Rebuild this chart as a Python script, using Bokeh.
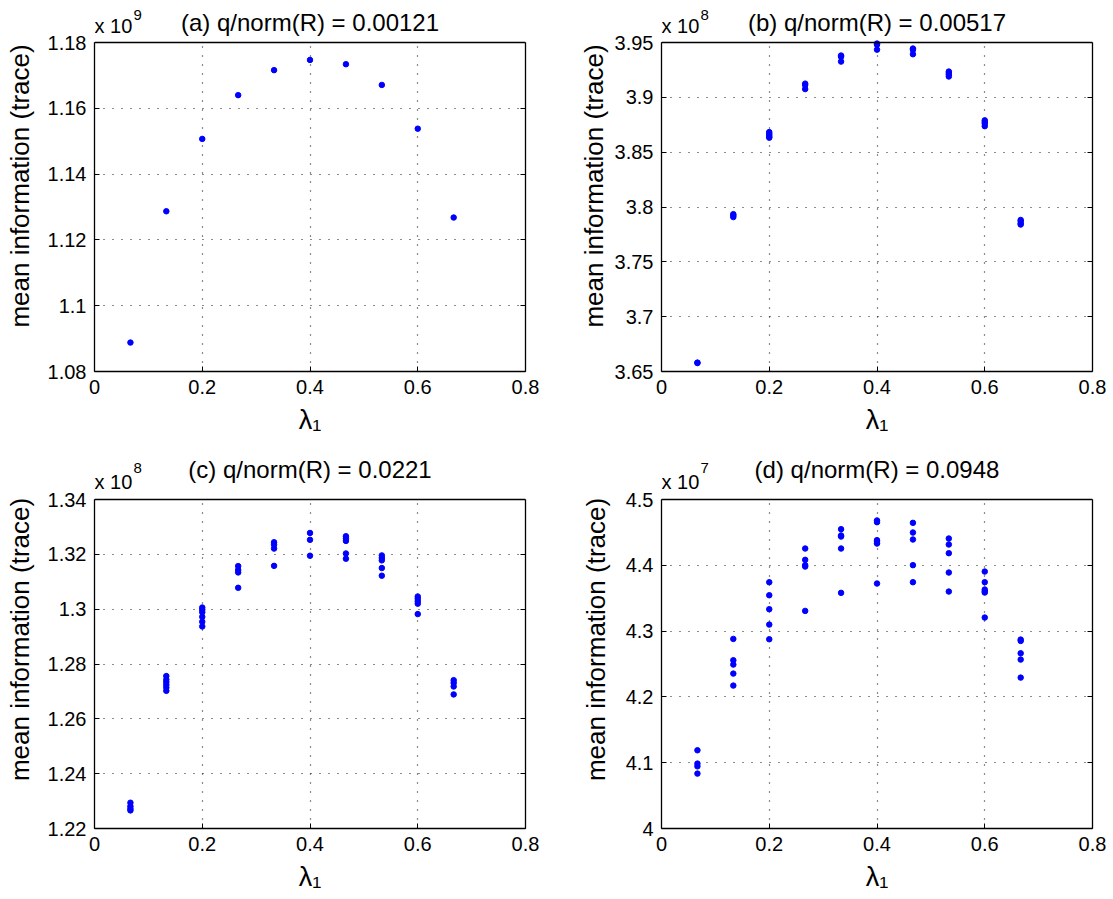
from bokeh.plotting import figure
from bokeh.layouts import column, row
from bokeh.models import (Range1d, FixedTicker, LinearAxis, Label, CustomJSTickFormatter,
                          ColumnDataSource, Span, BoxAnnotation)
from bokeh.embed import file_html
from bokeh.resources import INLINE

# ---------------- data ----------------
lam = [0.0667, 0.1333, 0.2, 0.2667, 0.3333, 0.4, 0.4667, 0.5333, 0.6, 0.6667]

# (a) values in units of 1e9
a_vals = [[1.0888], [1.1287], [1.1507], [1.1640], [1.1716], [1.1747],
          [1.1734], [1.1671], [1.1538], [1.1268]]
# (b) values in units of 1e8
b_vals = [[3.6581, 3.6577],
          [3.7935, 3.7922, 3.7908],
          [3.8683, 3.8668, 3.8655, 3.8640, 3.8632],
          [3.9125, 3.9112, 3.9075],
          [3.9381, 3.9370, 3.9326],
          [3.9490, 3.9480, 3.9435],
          [3.9445, 3.9433, 3.9393],
          [3.9235, 3.9222, 3.9208, 3.9190],
          [3.8790, 3.8775, 3.8760, 3.8737],
          [3.7882, 3.7870, 3.7850, 3.7840]]
# (c) values in units of 1e8
c_vals = [[1.2294, 1.2281, 1.2272, 1.2266],
          [1.2756, 1.2743, 1.2734, 1.2724, 1.2714, 1.2702],
          [1.3006, 1.2998, 1.2989, 1.2972, 1.2954, 1.2937],
          [1.3157, 1.3143, 1.3134, 1.3078],
          [1.3244, 1.3235, 1.3221, 1.3158],
          [1.3278, 1.3253, 1.3195],
          [1.3266, 1.3258, 1.3249, 1.3203, 1.3184],
          [1.3196, 1.3187, 1.3178, 1.3150, 1.3122],
          [1.3046, 1.3038, 1.3029, 1.3020, 1.2982],
          [1.2741, 1.2731, 1.2718, 1.2689]]
# (d) values in units of 1e7
d_vals = [[4.1189, 4.0986, 4.0945, 4.0834],
          [4.2881, 4.2557, 4.2491, 4.2354, 4.2172],
          [4.3743, 4.3545, 4.3333, 4.3099, 4.2876],
          [4.4255, 4.4083, 4.4002, 4.3981, 4.3307],
          [4.4549, 4.4453, 4.4437, 4.4255, 4.3581],
          [4.4681, 4.4655, 4.4382, 4.4356, 4.4331, 4.3723],
          [4.4645, 4.4498, 4.4392, 4.4002, 4.3743],
          [4.4407, 4.4316, 4.4184, 4.3890, 4.3601],
          [4.3905, 4.3743, 4.3632, 4.3606, 4.3586, 4.3206],
          [4.2871, 4.2851, 4.2663, 4.2567, 4.2293]]

titles = ["(a) q/norm(R) = 0.00121", "(b) q/norm(R) = 0.00517",
          "(c) q/norm(R) = 0.0221", "(d) q/norm(R) = 0.0948"]
exponents = ["9", "8", "8", "7"]
x_ticks = [0, 0.2, 0.4, 0.6, 0.8]
a_yticks = [1.08, 1.10, 1.12, 1.14, 1.16, 1.18]
b_yticks = [3.65, 3.70, 3.75, 3.80, 3.85, 3.90, 3.95]
c_yticks = [1.22, 1.24, 1.26, 1.28, 1.30, 1.32, 1.34]
d_yticks = [4.0, 4.1, 4.2, 4.3, 4.4, 4.5]
y_label = "mean information (trace)"
x_label = "λ₁"

FONT = "Liberation Sans"
FMT = "var v = Math.round(tick*10000)/10000; return String(v);"
FW, BOX_H = 431, 329
LINE_W = 1.3


def panel(vals, yticks, title, exp, left, right, head, bottom, title_gap, x10_gap, sup_gap,
          ylab_standoff):
    xs, ys = [], []
    for xv, group in zip(lam, vals):
        for v in group:
            xs.append(xv)
            ys.append(v)
    src = ColumnDataSource(dict(x=xs, y=ys))
    y_lo, y_hi = yticks[0], yticks[-1]
    # the frame also holds the header band (title) above the axes box
    y_top = y_hi + head / BOX_H * (y_hi - y_lo)
    p = figure(frame_width=FW, frame_height=BOX_H + head, output_backend="svg",
               toolbar_location=None,
               x_range=Range1d(x_ticks[0], x_ticks[-1]), y_range=Range1d(y_lo, y_top),
               min_border_left=left, min_border_right=right, min_border_top=0,
               min_border_bottom=bottom, background_fill_color="white",
               border_fill_color="white", outline_line_color=None)

    p.xgrid.ticker = FixedTicker(ticks=x_ticks)
    p.ygrid.ticker = FixedTicker(ticks=yticks)
    for g in (p.xgrid[0], p.ygrid[0]):
        g.grid_line_color = "black"
        g.grid_line_dash = "1 8"
        g.grid_line_width = 1.2
        g.grid_line_alpha = 0.9
    # white band hides the grid above the axes box
    p.add_layout(BoxAnnotation(bottom=y_hi, top=y_top, left=x_ticks[0], right=x_ticks[-1],
                               fill_color="white", fill_alpha=1.0, line_color=None,
                               level="underlay"))

    p.scatter("x", "y", source=src, size=5.5, color="#0000ff", line_color="#0000ff")

    for ax in (p.xaxis[0], p.yaxis[0]):
        ax.major_tick_in = 5
        ax.major_tick_out = 0
        ax.minor_tick_in = 0
        ax.minor_tick_out = 0
        ax.axis_line_color = "black"
        ax.axis_line_width = LINE_W
        ax.major_tick_line_color = "black"
        ax.major_label_text_font = FONT
        ax.major_label_text_font_size = "20px"
        ax.major_label_text_color = "black"
        ax.major_label_standoff = 8
        ax.formatter = CustomJSTickFormatter(code=FMT)
        ax.axis_label_text_font = FONT
        ax.axis_label_text_font_style = "normal"
        ax.axis_label_text_color = "black"
    p.xaxis[0].ticker = FixedTicker(ticks=x_ticks)
    p.yaxis[0].ticker = FixedTicker(ticks=yticks)
    p.yaxis[0].bounds = (y_lo, y_hi)
    p.xaxis[0].axis_label = x_label
    p.xaxis[0].axis_label_text_font_size = "27px"
    p.xaxis[0].axis_label_standoff = 8
    p.yaxis[0].axis_label = y_label
    p.yaxis[0].axis_label_text_font_size = "26px"
    p.yaxis[0].axis_label_standoff = ylab_standoff

    rax = LinearAxis(ticker=FixedTicker(ticks=yticks), bounds=(y_lo, y_hi),
                     formatter=CustomJSTickFormatter(code="return '';"),
                     major_tick_in=5, major_tick_out=0, minor_tick_in=0, minor_tick_out=0,
                     axis_line_color="black", axis_line_width=LINE_W,
                     major_label_standoff=0, major_label_text_font_size="0px")
    p.add_layout(rax, "right")
    # top edge of the axes box
    p.add_layout(Span(location=y_hi, dimension="width", line_color="black", line_width=LINE_W))

    # header texts
    p.add_layout(Label(x=0.4, y=y_hi, y_offset=title_gap, text=title, text_font=FONT,
                       text_font_size="24px", text_align="center", text_baseline="alphabetic",
                       text_color="black"))
    p.add_layout(Label(x=x_ticks[0], y=y_hi, y_offset=x10_gap, text="x 10", text_font=FONT,
                       text_font_size="20px", text_align="left", text_baseline="alphabetic",
                       text_color="black"))
    p.add_layout(Label(x=x_ticks[0], y=y_hi, x_offset=39, y_offset=sup_gap, text=exp,
                       text_font=FONT, text_font_size="15px", text_align="left",
                       text_baseline="alphabetic", text_color="black"))
    return p


pa = panel(a_vals, a_yticks, titles[0], exponents[0], 94, 31, 42, 79, 20, 17, 28, 10)
pb = panel(b_vals, b_yticks, titles[1], exponents[1], 105, 22, 42, 79, 20, 17, 28, 3)
pc = panel(c_vals, c_yticks, titles[2], exponents[2], 94, 31, 49, 71, 30, 18, 32, 10)
pd_ = panel(d_vals, d_yticks, titles[3], exponents[3], 105, 22, 49, 71, 30, 18, 32, 12)

layout = column(row(pa, pb, spacing=0), row(pc, pd_, spacing=0), spacing=0)
open("out.html", "w").write(file_html(layout, INLINE))
